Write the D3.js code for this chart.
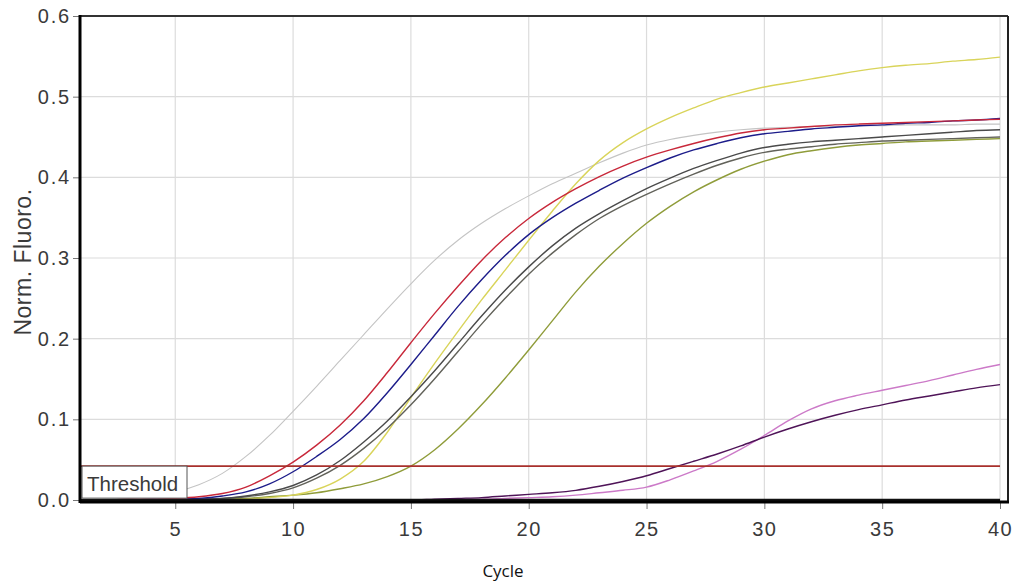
<!DOCTYPE html>
<html>
<head>
<meta charset="utf-8">
<script src="https://cdn.jsdelivr.net/npm/d3@7"></script>
<style>
  html, body { margin: 0; padding: 0; background: #ffffff; }
  svg { display: block; }
</style>
</head>
<body>
<svg id="chart" width="1013" height="584"></svg>
<script>
// ---------------- data ----------------
const cycles = d3.range(1, 41);
const xTicks = [5, 10, 15, 20, 25, 30, 35, 40];
const yTicks = [0.0, 0.1, 0.2, 0.3, 0.4, 0.5, 0.6];
const yTickLabels = ["0.0", "0.1", "0.2", "0.3", "0.4", "0.5", "0.6"];
const thresholdValue = 0.042;
const thresholdLabel = "Threshold";
const xTitle = "Cycle";
const yTitle = "Norm. Fluoro.";

const seriesNames = ["gray", "red", "blue", "dark1", "dark2", "yellow", "olive", "purple", "pink", "flatBlack", "flatRed"];
const seriesColors = ["#c4c4c4", "#c8283a", "#1c1c8a", "#4a4a4a", "#62625a", "#d9d45a", "#8f9c3a", "#4f1458", "#cc7ac8", "#111111", "#7a1010"];

const grayVals = [0.000,0.001,0.002,0.005,0.010,0.019,0.033,0.054,0.080,0.110,0.141,0.173,0.205,0.237,0.268,0.297,0.322,0.343,0.361,0.377,0.392,0.405,0.418,0.430,0.440,0.447,0.452,0.456,0.459,0.461,0.462,0.463,0.463,0.464,0.464,0.465,0.465,0.465,0.466,0.466];
const redVals = [0.000,0.000,0.001,0.001,0.002,0.004,0.008,0.016,0.030,0.047,0.068,0.093,0.123,0.158,0.195,0.231,0.265,0.297,0.325,0.349,0.369,0.386,0.401,0.414,0.425,0.434,0.442,0.449,0.455,0.459,0.461,0.463,0.465,0.466,0.467,0.468,0.469,0.470,0.471,0.472];
const blueVals = [0.000,0.000,0.000,0.001,0.001,0.002,0.005,0.010,0.020,0.035,0.054,0.075,0.101,0.133,0.168,0.204,0.240,0.273,0.303,0.329,0.350,0.368,0.384,0.399,0.412,0.424,0.434,0.442,0.449,0.454,0.457,0.460,0.462,0.464,0.465,0.467,0.468,0.470,0.471,0.473];
const dark1Vals = [0.000,0.000,0.000,0.000,0.001,0.001,0.002,0.005,0.010,0.018,0.031,0.049,0.072,0.098,0.128,0.160,0.194,0.228,0.260,0.289,0.315,0.337,0.355,0.371,0.386,0.399,0.411,0.421,0.430,0.437,0.441,0.444,0.446,0.448,0.450,0.452,0.454,0.456,0.458,0.459];
const dark2Vals = [0.000,0.000,0.000,0.000,0.000,0.001,0.002,0.004,0.008,0.015,0.027,0.043,0.064,0.089,0.118,0.150,0.184,0.218,0.250,0.280,0.306,0.329,0.349,0.365,0.379,0.392,0.404,0.415,0.424,0.431,0.435,0.438,0.441,0.443,0.445,0.446,0.447,0.448,0.449,0.450];
const yellowVals = [0.000,0.000,0.000,0.000,0.000,0.000,0.000,0.001,0.003,0.006,0.013,0.026,0.048,0.084,0.127,0.169,0.209,0.248,0.285,0.322,0.358,0.392,0.421,0.443,0.460,0.474,0.486,0.497,0.505,0.512,0.517,0.522,0.527,0.532,0.536,0.539,0.541,0.544,0.546,0.549];
const oliveVals = [0.000,0.000,0.000,0.000,0.000,0.001,0.001,0.002,0.004,0.006,0.009,0.014,0.020,0.029,0.042,0.062,0.088,0.118,0.151,0.186,0.222,0.258,0.290,0.318,0.343,0.364,0.382,0.397,0.410,0.420,0.428,0.433,0.437,0.440,0.442,0.444,0.445,0.446,0.447,0.448];
const purpleVals = [0.000,0.000,0.000,0.000,0.000,0.000,0.000,0.000,0.000,0.000,0.000,0.000,0.000,0.000,0.000,0.001,0.002,0.003,0.005,0.007,0.009,0.012,0.017,0.023,0.030,0.039,0.048,0.057,0.067,0.078,0.088,0.097,0.105,0.112,0.118,0.124,0.129,0.134,0.139,0.143];
const pinkVals = [0.000,0.000,0.000,0.000,0.000,0.000,0.000,0.000,0.000,0.000,0.000,0.000,0.000,0.000,0.000,0.000,0.001,0.001,0.002,0.003,0.004,0.006,0.009,0.012,0.016,0.025,0.036,0.048,0.063,0.080,0.098,0.113,0.123,0.130,0.136,0.142,0.148,0.155,0.162,0.168];
const flatBlackVals = [0,0,0,0,0,0,0,0,0,0,0,0,0,0,0,0,0,0,0,0,0,0,0,0,0,0,0,0,0,0,0,0,0,0,0,0,0,0,0,0];
const flatRedVals = [0,0,0,0,0,0,0,0,0,0,0,0,0,0,0,0,0,0,0,0,0,0,0,0,0,0,0,0,0,0,0,0,0,0,0,0,0,0,0,0];

const seriesValues = [grayVals, redVals, blueVals, dark1Vals, dark2Vals, yellowVals, oliveVals, purpleVals, pinkVals, flatBlackVals, flatRedVals];

// ---------------- layout ----------------
const svg = d3.select("#chart");
const frameLeft = 80, frameRight = 1008, frameTop = 16, frameBottom = 501;
const FONT = "Liberation Sans, Arial, sans-serif";

const x = d3.scaleLinear().domain([1, 40]).range([81, 1000]);
const y = d3.scaleLinear().domain([0, 0.6]).range([500, 16]);

// grid
const grid = svg.append("g");
grid.selectAll("line.vg").data(xTicks).enter().append("line")
  .attr("x1", d => x(d)).attr("x2", d => x(d))
  .attr("y1", frameTop).attr("y2", frameBottom)
  .attr("stroke", "#dcdcdc").attr("stroke-width", 1.2);
grid.selectAll("line.hg").data(yTicks.filter(v => v > 0 && v < 0.6)).enter().append("line")
  .attr("x1", frameLeft).attr("x2", frameRight)
  .attr("y1", d => y(d)).attr("y2", d => y(d))
  .attr("stroke", "#dcdcdc").attr("stroke-width", 1.2);

// curves
const line = d3.line()
  .x((d, i) => x(cycles[i]))
  .y(d => y(d))
  .curve(d3.curveMonotoneX);

const order = [0, 6, 5, 4, 3, 2, 1, 8, 7, 10, 9];
svg.append("g").selectAll("path").data(order).enter().append("path")
  .attr("d", k => line(seriesValues[k]))
  .attr("fill", "none")
  .attr("stroke", k => seriesColors[k])
  .attr("stroke-width", k => (k === 9 ? 2.5 : k === 10 ? 2 : (k === 0 ? 1.1 : 1.4)));

// threshold line
svg.append("line")
  .attr("x1", frameLeft).attr("x2", x(40))
  .attr("y1", y(thresholdValue)).attr("y2", y(thresholdValue))
  .attr("stroke", "#a8302c").attr("stroke-width", 1.6);

// threshold label box
const boxTop = y(thresholdValue);
svg.append("rect")
  .attr("x", 82).attr("y", boxTop)
  .attr("width", 105).attr("height", 32)
  .attr("fill", "#ffffff").attr("stroke", "#555555").attr("stroke-width", 1);
svg.append("text")
  .attr("x", 87).attr("y", boxTop + 25)
  .attr("font-family", FONT)
  .attr("font-size", 20.5).attr("fill", "#3a3a3a")
  .text(thresholdLabel);

// frame
svg.append("line").attr("x1", frameLeft).attr("x2", frameRight).attr("y1", frameTop).attr("y2", frameTop)
  .attr("stroke", "#333333").attr("stroke-width", 2);
svg.append("line").attr("x1", frameRight).attr("x2", frameRight).attr("y1", frameTop).attr("y2", frameBottom)
  .attr("stroke", "#222222").attr("stroke-width", 2);

// axes via d3
const yAxis = d3.axisLeft(y).tickValues(yTicks).tickFormat((d, i) => yTickLabels[i]).tickSize(6).tickPadding(2);
const gy = svg.append("g").attr("transform", `translate(${frameLeft - 1},0)`).call(yAxis);
gy.select(".domain").remove();
gy.selectAll(".tick line").attr("stroke", "#777").attr("stroke-width", 1);
gy.selectAll(".tick text").attr("font-family", FONT)
  .attr("font-size", 20).attr("letter-spacing", 1.8).attr("fill", "#3a3a3a");

const xAxis = d3.axisBottom(x).tickValues(xTicks).tickFormat(d3.format("d")).tickSize(7).tickPadding(13);
const gx = svg.append("g").attr("transform", `translate(0,${frameBottom + 1})`).call(xAxis);
gx.select(".domain").remove();
gx.selectAll(".tick line").attr("stroke", "#777").attr("stroke-width", 1);
gx.selectAll(".tick text").attr("font-family", FONT)
  .attr("font-size", 20).attr("letter-spacing", 1.5).attr("fill", "#3a3a3a");

// thick left and bottom axis lines
svg.append("line").attr("x1", frameLeft).attr("x2", frameLeft).attr("y1", frameTop - 1).attr("y2", frameBottom + 2)
  .attr("stroke", "#000000").attr("stroke-width", 3);
svg.append("line").attr("x1", frameLeft).attr("x2", frameRight + 1).attr("y1", frameBottom + 1).attr("y2", frameBottom + 1)
  .attr("stroke", "#000000").attr("stroke-width", 3);

// titles
svg.append("text")
  .attr("transform", `translate(31,262) rotate(-90)`)
  .attr("text-anchor", "middle")
  .attr("font-family", FONT)
  .attr("font-size", 23).attr("letter-spacing", 0.5).attr("fill", "#3a3a3a")
  .text(yTitle);
svg.append("text")
  .attr("x", 503).attr("y", 577)
  .attr("text-anchor", "middle")
  .attr("font-family", "Open Sans, sans-serif")
  .attr("font-size", 17).attr("fill", "#111111")
  .text(xTitle);
</script>
</body>
</html>
